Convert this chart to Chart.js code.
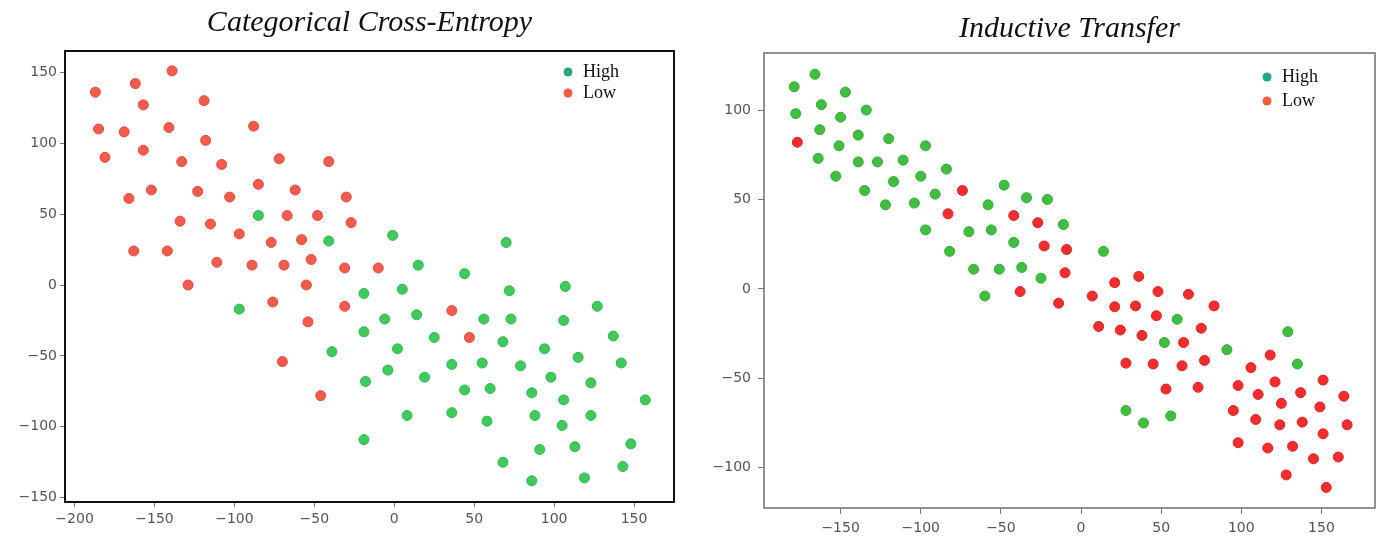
<!DOCTYPE html>
<html>
<head>
<meta charset="utf-8">
<script src="https://cdn.jsdelivr.net/npm/chart.js@4.4.0/dist/chart.umd.min.js"></script>
<style>
  html, body { margin: 0; padding: 0; background: #fff; }
  #wrap { position: relative; width: 1384px; height: 538px; }
  .panel { position: absolute; top: 0; height: 538px; }
  #p1 { left: 0; width: 690px; }
  #p2 { left: 690px; width: 694px; }
</style>
</head>
<body>
<div id="wrap">
  <div class="panel" id="p1"><canvas id="c1" width="690" height="538"></canvas></div>
  <div class="panel" id="p2"><canvas id="c2" width="694" height="538"></canvas></div>
</div>
<script>
// --- data: categorical cross-entropy panel ---
const cceLow = [
  [-187, 136], [-162, 142], [-139, 151], [-119, 130], [-157, 127], [-185, 110], [-169, 108],
  [-141, 111], [-88, 112], [-118, 102], [-181, 90], [-157, 95], [-133, 87], [-108, 85],
  [-72, 89], [-41, 87], [-166, 61], [-152, 67], [-123, 66], [-103, 62], [-85, 71], [-62, 67],
  [-134, 45], [-115, 43], [-67, 49], [-48, 49], [-97, 36], [-77, 30], [-58, 32], [-163, 24],
  [-142, 24], [-111, 16], [-89, 14], [-69, 14], [-52, 18], [-129, 0], [-55, 0], [-30, 62],
  [-27, 44], [-31, 12], [-10, 12], [-76, -12], [-54, -26], [-70, -54], [-46, -78], [-31, -15],
  [36, -18], [47, -37]
];
const cceHigh = [
  [-85, 49], [-41, 31], [-1, 35], [70, 30], [15, 14], [44, 8], [-97, -17], [-39, -47],
  [-19, -6], [5, -3], [72, -4], [107, -1], [-6, -24], [14, -21], [56, -24], [73, -24],
  [106, -25], [127, -15], [-19, -33], [25, -37], [68, -40], [94, -45], [137, -36], [2, -45],
  [36, -56], [55, -55], [79, -57], [115, -51], [142, -55], [-4, -60], [19, -65], [-18, -68],
  [98, -65], [123, -69], [44, -74], [60, -73], [86, -76], [106, -81], [157, -81], [8, -92],
  [36, -90], [58, -96], [88, -92], [123, -92], [105, -99], [-19, -109], [91, -116], [113, -114],
  [148, -112], [68, -125], [143, -128], [86, -138], [119, -136]
];
const cceXTicks = [-200, -150, -100, -50, 0, 50, 100, 150];
const cceYTicks = [-150, -100, -50, 0, 50, 100, 150];

// --- data: inductive transfer panel ---
const itHigh = [
  [-179, 113], [-166, 120], [-147, 110], [-178, 98], [-162, 103], [-150, 96], [-134, 100],
  [-163, 89], [-139, 86], [-120, 84], [-151, 80], [-97, 80], [-164, 73], [-139, 71], [-127, 71],
  [-111, 72], [-100, 63], [-84, 67], [-153, 63], [-135, 55], [-117, 60], [-91, 53], [-122, 47],
  [-104, 48], [-48, 58], [-34, 51], [-58, 47], [-97, 33], [-70, 32], [-56, 33], [-82, 21],
  [-42, 26], [-67, 11], [-51, 11], [-37, 12], [-25, 6], [-60, -4], [-21, 50], [-11, 36],
  [14, 21], [60, -17], [52, -30], [91, -34], [129, -24], [135, -42], [28, -68], [39, -75], [56, -71]
];
const itLow = [
  [-177, 82], [-74, 55], [-83, 42], [-42, 41], [-27, 37], [-23, 24], [-9, 22], [-10, 9],
  [21, 3.5], [36, 7], [-38, -1.5], [48, -1.5], [67, -3], [-14, -8], [7, -4], [21, -10],
  [34, -9.5], [83, -9.5], [47, -15], [11, -21], [24.5, -23], [38, -26], [75, -22], [64, -30],
  [28, -41.5], [45, -42], [63, -43], [77, -40], [118, -37], [106, -44], [151, -51], [121, -52],
  [98, -54], [53, -56], [73, -55], [110.5, -59], [137, -58], [164, -60], [125, -64], [149, -66],
  [95, -68], [109, -73], [124, -76], [138, -74.5], [166, -76], [151, -81], [98, -86], [116.5, -89],
  [132, -88], [145, -95], [160.5, -94], [128, -104], [153, -111]
];
const itXTicks = [-150, -100, -50, 0, 50, 100, 150];
const itYTicks = [-100, -50, 0, 50, 100];

const legendLabels = ['High', 'Low'];

// frame, title and in-plot legend
const panelDecor = {
  id: 'panelDecor',
  afterDraw(chart, args, o) {
    const { ctx, chartArea: a } = chart;
    ctx.save();
    ctx.strokeStyle = o.frameColor;
    ctx.lineWidth = o.frameWidth;
    ctx.strokeRect(a.left, a.top, a.right - a.left, a.bottom - a.top);

    ctx.fillStyle = '#111';
    ctx.font = 'italic 30px "Liberation Serif", "Times New Roman", serif';
    ctx.textAlign = 'center';
    ctx.textBaseline = 'alphabetic';
    ctx.fillText(o.title, (a.left + a.right) / 2, o.titleY);

    ctx.textAlign = 'left';
    ctx.font = '18px "Liberation Serif", "Times New Roman", serif';
    o.legend.forEach((it, i) => {
      const y = o.legendY[i];
      ctx.beginPath();
      ctx.arc(o.legendX, y, 4.5, 0, Math.PI * 2);
      ctx.fillStyle = it.color;
      ctx.fill();
      ctx.fillStyle = '#111';
      ctx.fillText(it.label, o.legendX + 15, y + 5);
    });
    ctx.restore();
  }
};

const fmt = v => (v < 0 ? '\u2212' + Math.abs(v) : String(v));

function makePanel(id, p) {
  const toPts = arr => arr.map(([x, y]) => ({ x, y }));
  new Chart(document.getElementById(id), {
    type: 'scatter',
    data: {
      datasets: p.sets.map(s => ({
        data: toPts(s.data),
        backgroundColor: s.color,
        borderColor: s.edge,
        borderWidth: 1,
        pointRadius: 5,
        pointHoverRadius: 5
      }))
    },
    options: {
      responsive: false,
      animation: false,
      layout: { padding: { top: p.top, right: p.right, left: 0, bottom: 0 } },
      plugins: {
        legend: { display: false },
        tooltip: { enabled: false },
        panelDecor: p.decor
      },
      scales: {
        x: {
          type: 'linear', min: p.xMin, max: p.xMax,
          afterBuildTicks: s => { s.ticks = p.xTicks.map(v => ({ value: v })); },
          afterFit: s => { s.height = p.xh; },
          border: { display: false },
          grid: { drawOnChartArea: false, drawTicks: true, tickLength: p.tick, color: '#777' },
          ticks: { color: '#555', padding: p.xpad, maxRotation: 0, font: { family: 'DejaVu Sans', size: 14 }, callback: fmt }
        },
        y: {
          type: 'linear', min: p.yMin, max: p.yMax,
          afterBuildTicks: s => { s.ticks = p.yTicks.map(v => ({ value: v })); },
          afterFit: s => { s.width = p.yw; },
          border: { display: false },
          grid: { drawOnChartArea: false, drawTicks: true, tickLength: p.tick, color: '#777' },
          ticks: { color: '#555', padding: p.ypad, font: { family: 'DejaVu Sans', size: 14 }, callback: fmt }
        }
      }
    },
    plugins: [panelDecor]
  });
}

makePanel('c1', {
  sets: [
    { data: cceLow, color: '#f45b4b', edge: '#e54c3d' },
    { data: cceHigh, color: '#3ecb5c', edge: '#33b650' }
  ],
  xMin: -206, xMax: 175, yMin: -153, yMax: 165,
  xTicks: cceXTicks, yTicks: cceYTicks,
  top: 51, right: 16, yw: 65, xh: 36, tick: 5, xpad: 4, ypad: 3,
  decor: {
    frameColor: '#111', frameWidth: 2,
    title: 'Categorical Cross-Entropy', titleY: 31,
    legendX: 568, legendY: [72, 93],
    legend: [{ label: legendLabels[0], color: '#27a878' }, { label: legendLabels[1], color: '#ee5a47' }]
  }
});

makePanel('c2', {
  sets: [
    { data: itHigh, color: '#3fbf3f', edge: '#35a935' },
    { data: itLow, color: '#f52c2c', edge: '#e02424' }
  ],
  xMin: -197.8, xMax: 183.4, yMin: -122.5, yMax: 131.9,
  xTicks: itXTicks, yTicks: itYTicks,
  top: 53, right: 9, yw: 74, xh: 30, tick: 6, xpad: 6, ypad: 7,
  decor: {
    frameColor: '#6f6f6f', frameWidth: 1.5,
    title: 'Inductive Transfer', titleY: 37,
    legendX: 577, legendY: [77, 101],
    legend: [{ label: legendLabels[0], color: '#25a889' }, { label: legendLabels[1], color: '#f0603f' }]
  }
});
</script>
</body>
</html>
